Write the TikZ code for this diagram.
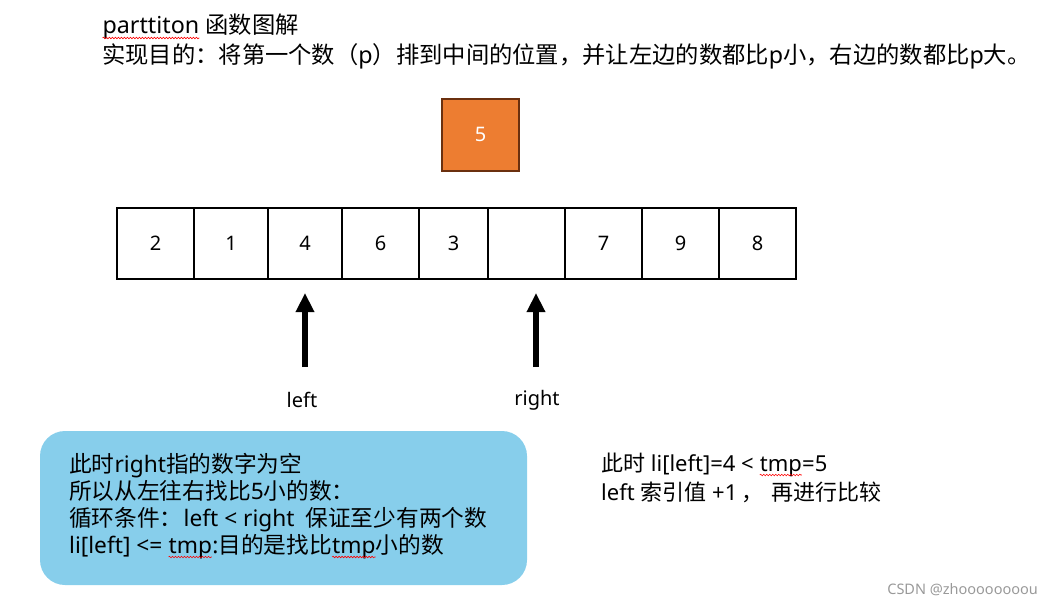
\documentclass[tikz,border=0pt]{standalone}
\usepackage{fontspec}
\setmainfont{Noto Sans}
\newfontfamily\cjk{Noto Sans CJK SC}
\usetikzlibrary{arrows.meta,decorations.pathmorphing}
\newcommand\redwave[1]{\tikz[baseline=(w.base)]{\node[inner sep=0pt,outer sep=0pt] (w) {#1};\draw[red,line width=0.6pt,decorate,decoration={snake,amplitude=0.8pt,segment length=3pt}] ([yshift=-4pt]w.base west) -- ([yshift=-4pt]w.base east);}}
\definecolor{pivotfill}{HTML}{ED7D31}
\definecolor{pivotdraw}{HTML}{6B300F}
\definecolor{notefill}{HTML}{87CEEB}
\definecolor{wmgray}{HTML}{999999}
\begin{document}
\begin{tikzpicture}[x=1pt,y=-1pt,
  cell/.style={draw=black,line width=2pt,minimum height=71pt,inner sep=0pt,font=\fontsize{20}{24}\selectfont},
  pivot/.style={draw=pivotdraw,fill=pivotfill,line width=2pt,minimum width=77pt,minimum height=72pt,inner sep=0pt,text=white,font=\fontsize{20}{24}\selectfont},
  ptr/.style={line width=5.3pt,-{Triangle[length=19pt,width=17.5pt]}},
  lbl/.style={inner sep=0pt,font=\fontsize{20}{24}\selectfont},
  txt/.style={inner sep=0pt,anchor=base west,font=\fontsize{23.3}{27}\selectfont},
  note/.style={fill=notefill,rounded corners=25pt,minimum width=487pt,minimum height=154pt,inner sep=0pt},
  notetxt/.style={inner sep=0pt,anchor=base west,font=\fontsize{22.7}{27}\selectfont},
  sidetxt/.style={inner sep=0pt,anchor=base west,font=\fontsize{22}{27}\selectfont}
]
\useasboundingbox (0,0) rectangle (1053,605);
% title
\node[txt] (t1) at (102,34) {\redwave{parttiton} {\cjk 函数图解}};
\node[txt] (t2) at (102,63) {{\cjk 实现目的：将第一个数（}p{\cjk ）排到中间的位置，并让左边的数都比}p{\cjk 小，右边的数都比}p{\cjk 大。}};
% pivot
\node[pivot] (p) at (480.5,134.5) {5};
% array
\node[cell,minimum width=77pt] (c1) at (155.5,243.5) {2};
\node[cell,minimum width=74pt] (c2) at (231,243.5) {1};
\node[cell,minimum width=74pt] (c3) at (305,243.5) {4};
\node[cell,minimum width=77pt] (c4) at (380.5,243.5) {6};
\node[cell,minimum width=69pt] (c5) at (453.5,243.5) {3};
\node[cell,minimum width=77pt] (c6) at (526.5,243.5) {};
\node[cell,minimum width=77pt] (c7) at (603.5,243.5) {7};
\node[cell,minimum width=77pt] (c8) at (680.5,243.5) {9};
\node[cell,minimum width=77pt] (c9) at (757.5,243.5) {8};
% pointers
\node[lbl] (lleft) at (302,400) {left};
\node[lbl] (lright) at (537,400) {right};
\coordinate (la) at (305,367);
\coordinate (lb) at (305,293);
\coordinate (ra) at (536,367);
\coordinate (rb) at (536,293);
\draw[ptr] (la) -- (lb);
\draw[ptr] (ra) -- (rb);
% note box
\node[note] (n) at (283.5,508) {};
\node[notetxt] (n1) at (69,472) {{\cjk 此时}right{\cjk 指的数字为空}};
\node[notetxt] (n2) at (69,499) {{\cjk 所以从左往右找比}5{\cjk 小的数：}};
\node[notetxt] (n3) at (69,526) {{\cjk 循环条件：}\hspace{1pt}left < right\hspace{11pt}{\cjk 保证至少有两个数}};
\node[notetxt] (n4) at (69,553) {li[left] <= \redwave{tmp}:{\cjk 目的是找比}\redwave{tmp}{\cjk 小的数}};
% right text
\node[sidetxt] (r1) at (601,471) {{\cjk 此时} li[left]=4 < \redwave{tmp}=5};
\node[sidetxt] (r2) at (601,500) {left {\cjk 索引值} +1\hspace{4pt}{\cjk ，}\hspace{8pt}{\cjk 再进行比较}};
% watermark
\node[inner sep=0pt,anchor=base east,text=wmgray,font=\fontsize{14.5}{18}\selectfont] (wm) at (1038,594) {CSDN @zhoooooooou};
\end{tikzpicture}
\end{document}
